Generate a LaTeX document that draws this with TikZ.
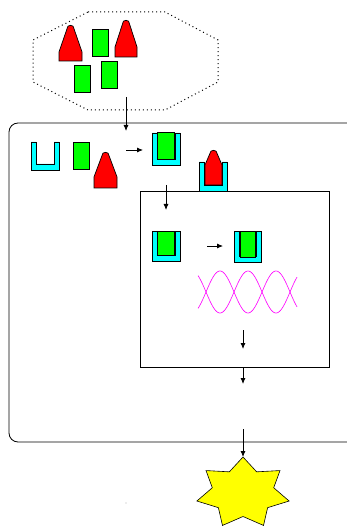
\documentclass[tikz,border=0pt]{standalone}
\usetikzlibrary{arrows.meta}
\definecolor{pgreen}{RGB}{0,255,0}
\definecolor{pred}{RGB}{255,0,0}
\definecolor{pcyan}{RGB}{0,255,255}
\definecolor{pyellow}{RGB}{255,255,0}
\definecolor{pmagenta}{RGB}{255,0,255}
\tikzset{
  outline/.style={draw=black, line width=0.7pt},
  greenbox/.style={outline, fill=pgreen},
  conestyle/.style={outline, fill=pred},
  ustyle/.style={outline, fill=pcyan},
  flow/.style={draw=black, line width=0.8pt, -{Latex[length=6pt,width=5pt]}},
  wave/.style={draw=pmagenta, line width=0.6pt},
  frame/.style={draw=black, line width=0.8pt},
}
% cone: cx, bottom, width, height, shoulder
\newcommand{\drawcone}[5]{%
  \filldraw[conestyle] ({#1-#3/2},#2) -- ({#1+#3/2},#2) -- ({#1+#3/2},{#2-#5})
    -- ({#1+2.6},{#2-#4+1.2}) .. controls ({#1+1.8},{#2-#4}) and ({#1-1.8},{#2-#4}) .. ({#1-2.6},{#2-#4+1.2})
    -- ({#1-#3/2},{#2-#5}) -- cycle;}
% U: left, top, right, bottom
\newcommand{\drawU}[4]{%
  \filldraw[ustyle] (#1,#2) -- (#1,#4) -- (#3,#4) -- (#3,#2) -- ({#3-5},#2)
    -- ({#3-5},{#4-6}) -- ({#1+5},{#4-6}) -- ({#1+5},#2) -- cycle;}
\begin{document}
\begin{tikzpicture}[x=1pt,y=-1pt]
\clip (0,0) rectangle (347,526);
\fill[white] (0,0) rectangle (347,526);

% dotted octagon
\draw[line width=1pt, dash pattern=on 1pt off 3pt]
  (88,12) -- (165,12) -- (218,40) -- (218,82) -- (165,110) -- (88,110) -- (33,82) -- (33,40) -- cycle;

% top group
\drawcone{70.5}{61}{23}{36}{9}
\drawcone{126}{57}{22}{37}{10}
\filldraw[greenbox] (92,29) rectangle (108,56);
\filldraw[greenbox] (74,65) rectangle (90,92);
\filldraw[greenbox] (101,61) rectangle (117,88);

% outer rounded frame
\draw[frame, rounded corners=9] (9,123) rectangle (356,442);
% inner rectangle
\draw[frame] (140,191) rectangle (329,367);

% first row inside
\drawU{31}{142}{59}{170}
\filldraw[greenbox] (73,142) rectangle (89,169);
\drawcone{105.5}{188}{23}{36}{11}
\drawU{152}{133}{180}{165}
\filldraw[greenbox] (157,132) rectangle (174,159);
\drawU{199}{162}{227}{191}
\drawcone{213.5}{185}{17}{35}{20}

% second row inside inner rect
\drawU{152}{231}{180}{261}
\filldraw[greenbox] (157,231) rectangle (174,255);
\drawU{234}{231}{261}{262}
\filldraw[greenbox] (240,231) rectangle (255,257);

% waves
\draw[wave] plot[domain=198:297, samples=120] (\x, {292 - 21*cos(180*(\x-220)/28)});
\draw[wave] plot[domain=198:297, samples=120] (\x, {292 + 21*cos(180*(\x-220)/28)});

% star
\filldraw[outline, fill=pyellow, line width=0.6pt] (243,457)
  \foreach \i in {1,...,13} {
    -- ({243 + (mod(\i,2)==0 ? 47.3 : 31.5)*sin(\i*180/7)},
        {493 - (mod(\i,2)==0 ? 36 : 23.5)*cos(\i*180/7)})
  } -- cycle;

% tiny speck
\fill[gray!60] (126,503) circle (0.6);

% arrow end points
\coordinate (a1s) at (126,97);  \coordinate (a1e) at (126,131);
\coordinate (a2s) at (126,150); \coordinate (a2e) at (143,150);
\coordinate (a3s) at (166,185); \coordinate (a3e) at (166,210);
\coordinate (a4s) at (207,246); \coordinate (a4e) at (223,246);
\coordinate (a5s) at (243,330); \coordinate (a5e) at (243,349);
\coordinate (a6s) at (243,367); \coordinate (a6e) at (243,384);
\coordinate (a7s) at (243,429); \coordinate (a7e) at (243,457);
\draw[flow] (a1s) -- (a1e);
\draw[flow] (a2s) -- (a2e);
\draw[flow] (a3s) -- (a3e);
\draw[flow] (a4s) -- (a4e);
\draw[flow] (a5s) -- (a5e);
\draw[flow] (a6s) -- (a6e);
\draw[flow] (a7s) -- (a7e);
\end{tikzpicture}
\end{document}
